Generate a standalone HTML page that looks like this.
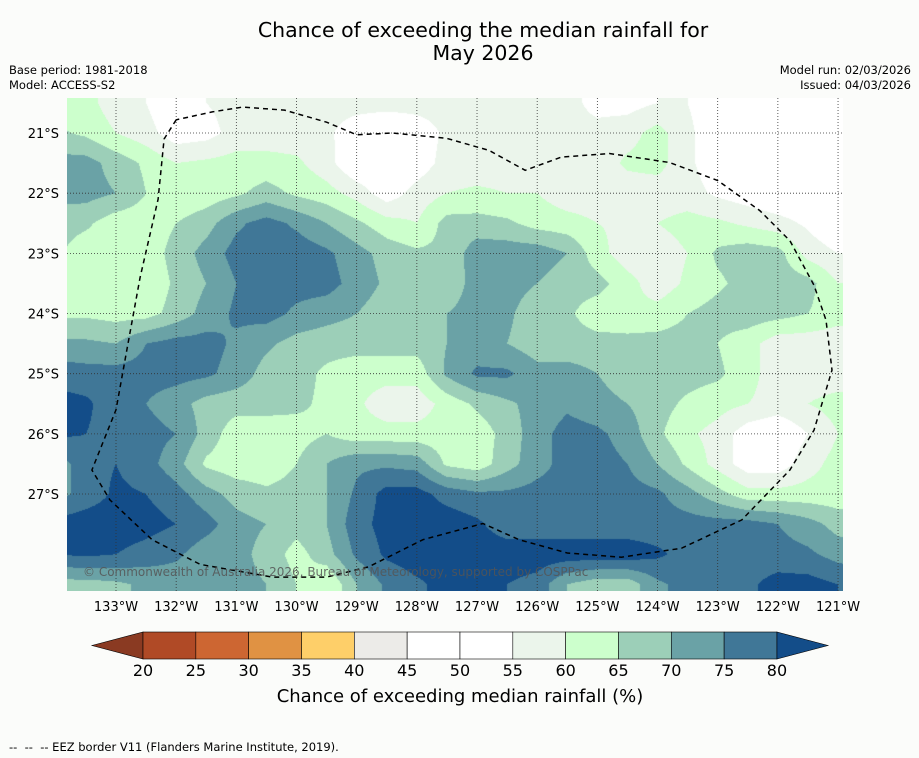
<!DOCTYPE html>
<html><head><meta charset="utf-8">
<style>
body{margin:0;background:#fbfcfa;font-family:"DejaVu Sans","Liberation Sans",sans-serif;}
#wrap{position:relative;width:919px;height:758px;overflow:hidden;background:#fbfcfa;}
.t{position:absolute;color:#000;white-space:nowrap;}
</style></head><body>
<div id="wrap">
<div class="t" style="left:0;width:966px;text-align:center;top:19px;font-size:20.5px;line-height:23px;">Chance of exceeding the median rainfall for<br>May 2026</div>
<div class="t" style="left:9px;top:63px;font-size:11.5px;line-height:15px;">Base period: 1981-2018<br>Model: ACCESS-S2</div>
<div class="t" style="right:8px;top:63px;font-size:11.5px;line-height:15px;text-align:right;">Model run: 02/03/2026<br>Issued: 04/03/2026</div>
<canvas id="map" width="776" height="493" style="position:absolute;left:67px;top:98px;"></canvas>
<svg id="ov" width="919" height="758" style="position:absolute;left:0;top:0;"></svg>
<div class="t" style="left:83px;top:565px;font-size:12px;color:#555;opacity:0.85;">© Commonwealth of Australia 2026, Bureau of Meteorology, supported by COSPPac</div>
<div class="t" style="left:0;width:920px;text-align:center;top:686px;font-size:18px;">Chance of exceeding median rainfall (%)</div>
<div class="t" style="left:9px;top:740px;font-size:11.5px;">-- &nbsp;-- &nbsp;-- EEZ border V11 (Flanders Marine Institute, 2019).</div>
</div>
<script>
// grid nodes: lon -134..-120.5 step 0.5, lat -20.5..-28.5 step 0.5
const lons=[-134,-133.5,-133,-132.5,-132,-131.5,-131,-130.5,-130,-129.5,-129,-128.5,-128,-127.5,-127,-126.5,-126,-125.5,-125,-124.5,-124,-123.5,-123,-122.5,-122,-121.5,-121,-120.5];
const lats=[-20.5,-21,-21.5,-22,-22.5,-23,-23.5,-24,-24.5,-25,-25.5,-26,-26.5,-27,-27.5,-28,-28.5];
const r0=[62,62,57,55,50,55,57,57,57,57,57,57,57,57,57,57,57,57,53,53,55,55,52,50,50,50,50,50];
const r1=[66,64,60,57,52,53,57,57,57,56,52,50,52,56,57,57,57,57,57,58,62,56,52,50,50,50,50,50];
const r2=[72,72,68,64,60,61,62,62,61,57,50,50,52,57,57,57,57,57,57,61,62,56,52,50,50,50,50,50];
const r3=[72,72,70,65,61,62,64,67,64,62,58,52,57,60,61,60,60,57,57,57,57,57,54,52,50,50,50,50];
const r4=[67,66,62,62,65,68,74,77,74,70,66,62,60,67,67,66,63,62,60,59,60,62,61,59,57,54,50,50];
const r5=[66,62,61,62,67,72,77,78,78,76,72,68,66,66,73,73,73,70,62,57,57,60,66,68,67,58,55,55];
const r6=[62,61,61,61,66,70,75,77,77,77,73,69,67,67,72,72,70,67,67,62,57,61,64,67,68,67,60,60];
const r7=[64,64,63,63,67,72,76,77,74,72,70,67,67,70,72,71,67,66,62,61,62,65,67,68,67,65,62,62];
const r8=[71,71,70,75,77,77,74,71,68,67,67,67,67,70,72,70,67,67,67,67,67,67,65,62,57,57,57,57];
const r9=[78,77,77,77,77,76,73,68,67,64,62,62,62,71,76,76,72,72,70,67,67,67,66,62,57,57,57,57];
const r10=[82,81,77,75,72,68,67,67,66,64,61,57,57,62,66,69,72,74,72,70,67,64,62,60,58,60,62,62];
const r11=[81,80,78,77,75,68,62,62,63,65,62,62,62,62,62,67,73,77,76,73,66,61,58,52,50,55,60,62];
const r12=[72,78,80,77,72,64,62,62,65,70,74,74,73,64,62,68,73,77,77,75,70,64,58,52,52,58,62,63];
const r13=[73,77,81,80,77,72,68,66,67,70,76,82,82,78,76,76,77,77,77,77,76,72,67,62,62,62,62,63];
const r14=[82,83,83,82,80,77,72,70,67,70,78,82,83,83,81,77,77,77,77,77,77,77,77,77,75,72,68,67];
const r15=[80,81,80,78,76,72,72,68,63,68,76,81,83,83,83,83,83,83,83,83,81,78,77,77,77,76,73,72];
const r16=[68,68,69,71,72,72,72,70,65,60,70,76,79,82,82,80,78,70,67,67,74,77,77,79,82,82,80,78];
const grid=[r0,r1,r2,r3,r4,r5,r6,r7,r8,r9,r10,r11,r12,r13,r14,r15,r16];
const levels=[15,20,25,30,35,40,45,50,55,60,65,70,75,80];
const cbTicks=["20","25","30","35","40","45","50","55","60","65","70","75","80"];
const latTicks=[-21,-22,-23,-24,-25,-26,-27];
const lonTicks=[-133,-132,-131,-130,-129,-128,-127,-126,-125,-124,-123,-122,-121];
const colors=["#8a3a22","#b04a26","#cd6632","#e09243","#fecf69","#ecebe8","#ffffff","#ffffff","#ebf5eb","#ccffcc","#9ccfb8","#6aa2a6","#407797","#134d89"];
const eezLon=[-132.0,-132.2,-132.3,-132.6,-132.8,-133.0,-133.4,-133.1,-132.4,-131.6,-130.4,-129.5,-128.8,-127.9,-126.9,-126.3,-125.5,-124.6,-123.6,-122.6,-121.8,-121.4,-121.1,-121.2,-121.4,-121.8,-122.3,-123.0,-123.8,-124.8,-125.6,-126.2,-126.8,-127.5,-128.4,-129.0,-129.5,-130.2,-130.9,-131.4,-132.0];
const eezLat=[-20.78,-21.1,-22.1,-23.4,-24.5,-25.6,-26.6,-27.1,-27.76,-28.17,-28.38,-28.38,-28.21,-27.76,-27.49,-27.76,-27.98,-28.05,-27.9,-27.43,-26.6,-25.94,-24.94,-24.11,-23.53,-22.79,-22.29,-21.79,-21.49,-21.34,-21.4,-21.62,-21.29,-21.09,-21.0,-21.03,-20.82,-20.62,-20.57,-20.65,-20.78];

// axis functions
const X=lon=>116+(lon+133)*60.17;
const Y=lat=>133+(-21-lat)*60.17;
const XI=x=>-133+(x-116)/60.17;
const YI=y=>-21-(y-133)/60.17;
function val(lon,lat){
  let gx=(lon-lons[0])/0.5, gy=(lats[0]-lat)/0.5;
  gx=Math.max(0,Math.min(lons.length-1.001,gx)); gy=Math.max(0,Math.min(lats.length-1.001,gy));
  const i=Math.floor(gx),j=Math.floor(gy),fx=gx-i,fy=gy-j;
  const a=grid[j][i],b=grid[j][i+1],c=grid[j+1][i],d=grid[j+1][i+1];
  return (a*(1-fx)+b*fx)*(1-fy)+(c*(1-fx)+d*fx)*fy;
}
function levelIdx(v){let k=0;for(let i=0;i<levels.length;i++){if(v>=levels[i])k=i;}return k;}
const rgb=colors.map(h=>[parseInt(h.substr(1,2),16),parseInt(h.substr(3,2),16),parseInt(h.substr(5,2),16)]);
const cv=document.getElementById('map'),ctx=cv.getContext('2d');
const img=ctx.createImageData(776,493);
for(let py=0;py<493;py++){const lat=YI(py+98.5);for(let px=0;px<776;px++){
  const v=val(XI(px+67.5),lat);const c=rgb[levelIdx(v)];const o=(py*776+px)*4;
  img.data[o]=c[0];img.data[o+1]=c[1];img.data[o+2]=c[2];img.data[o+3]=255;}}
ctx.putImageData(img,0,0);

const NS='http://www.w3.org/2000/svg',ov=document.getElementById('ov');
const FF='DejaVu Sans, Liberation Sans, sans-serif';
function mk(tag,at){const e=document.createElementNS(NS,tag);for(const k in at)e.setAttribute(k,at[k]);ov.appendChild(e);return e;}
lonTicks.forEach(l=>{
  const ln=mk('line',{x1:X(l),x2:X(l),y1:98,y2:591,stroke:'#333','stroke-width':0.8,'stroke-dasharray':'1,2'});
  
  
  const t=mk('text',{x:X(l),y:611,'text-anchor':'middle','font-size':13,'font-family':FF});
  t.textContent=Math.abs(l)+'°W';
  
  
});
latTicks.forEach(l=>{
  const ln=mk('line',{x1:67,x2:843,y1:Y(l),y2:Y(l),stroke:'#333','stroke-width':0.8,'stroke-dasharray':'1,2'});
  
  
  const t=mk('text',{x:59,y:Y(l)+5,'text-anchor':'end','font-size':13,'font-family':FF});
  t.textContent=Math.abs(l)+'°S';
  
  
});
let d='';eezLon.forEach((l,i)=>{d+=(i?'L':'M')+X(l).toFixed(1)+','+Y(eezLat[i]).toFixed(1);});
const eez=mk('path',{d:d,fill:'none',stroke:'#000','stroke-width':1.5,'stroke-dasharray':'5,4'});


// colorbar
const cbX0=143,cbW=52.83,cbY=632,cbH=27;
const lt=mk('polygon',{points:`${cbX0},${cbY} ${cbX0},${cbY+cbH} 92,${cbY+cbH/2}`,fill:colors[0],stroke:'#000','stroke-width':0.6});


for(let i=1;i<colors.length-1;i++){
  const r=mk('rect',{x:cbX0+(i-1)*cbW,y:cbY,width:cbW,height:cbH,fill:colors[i],stroke:'#000','stroke-width':0.6});
  
  
}
const xe=cbX0+(colors.length-2)*cbW;
const rt=mk('polygon',{points:`${xe},${cbY} ${xe},${cbY+cbH} 828,${cbY+cbH/2}`,fill:colors[colors.length-1],stroke:'#000','stroke-width':0.6});


cbTicks.forEach((s,i)=>{
  const t=mk('text',{x:cbX0+i*cbW,y:676,'text-anchor':'middle','font-size':16,'font-family':FF});
  t.textContent=s;
  
  
});
</script>
</body></html>
